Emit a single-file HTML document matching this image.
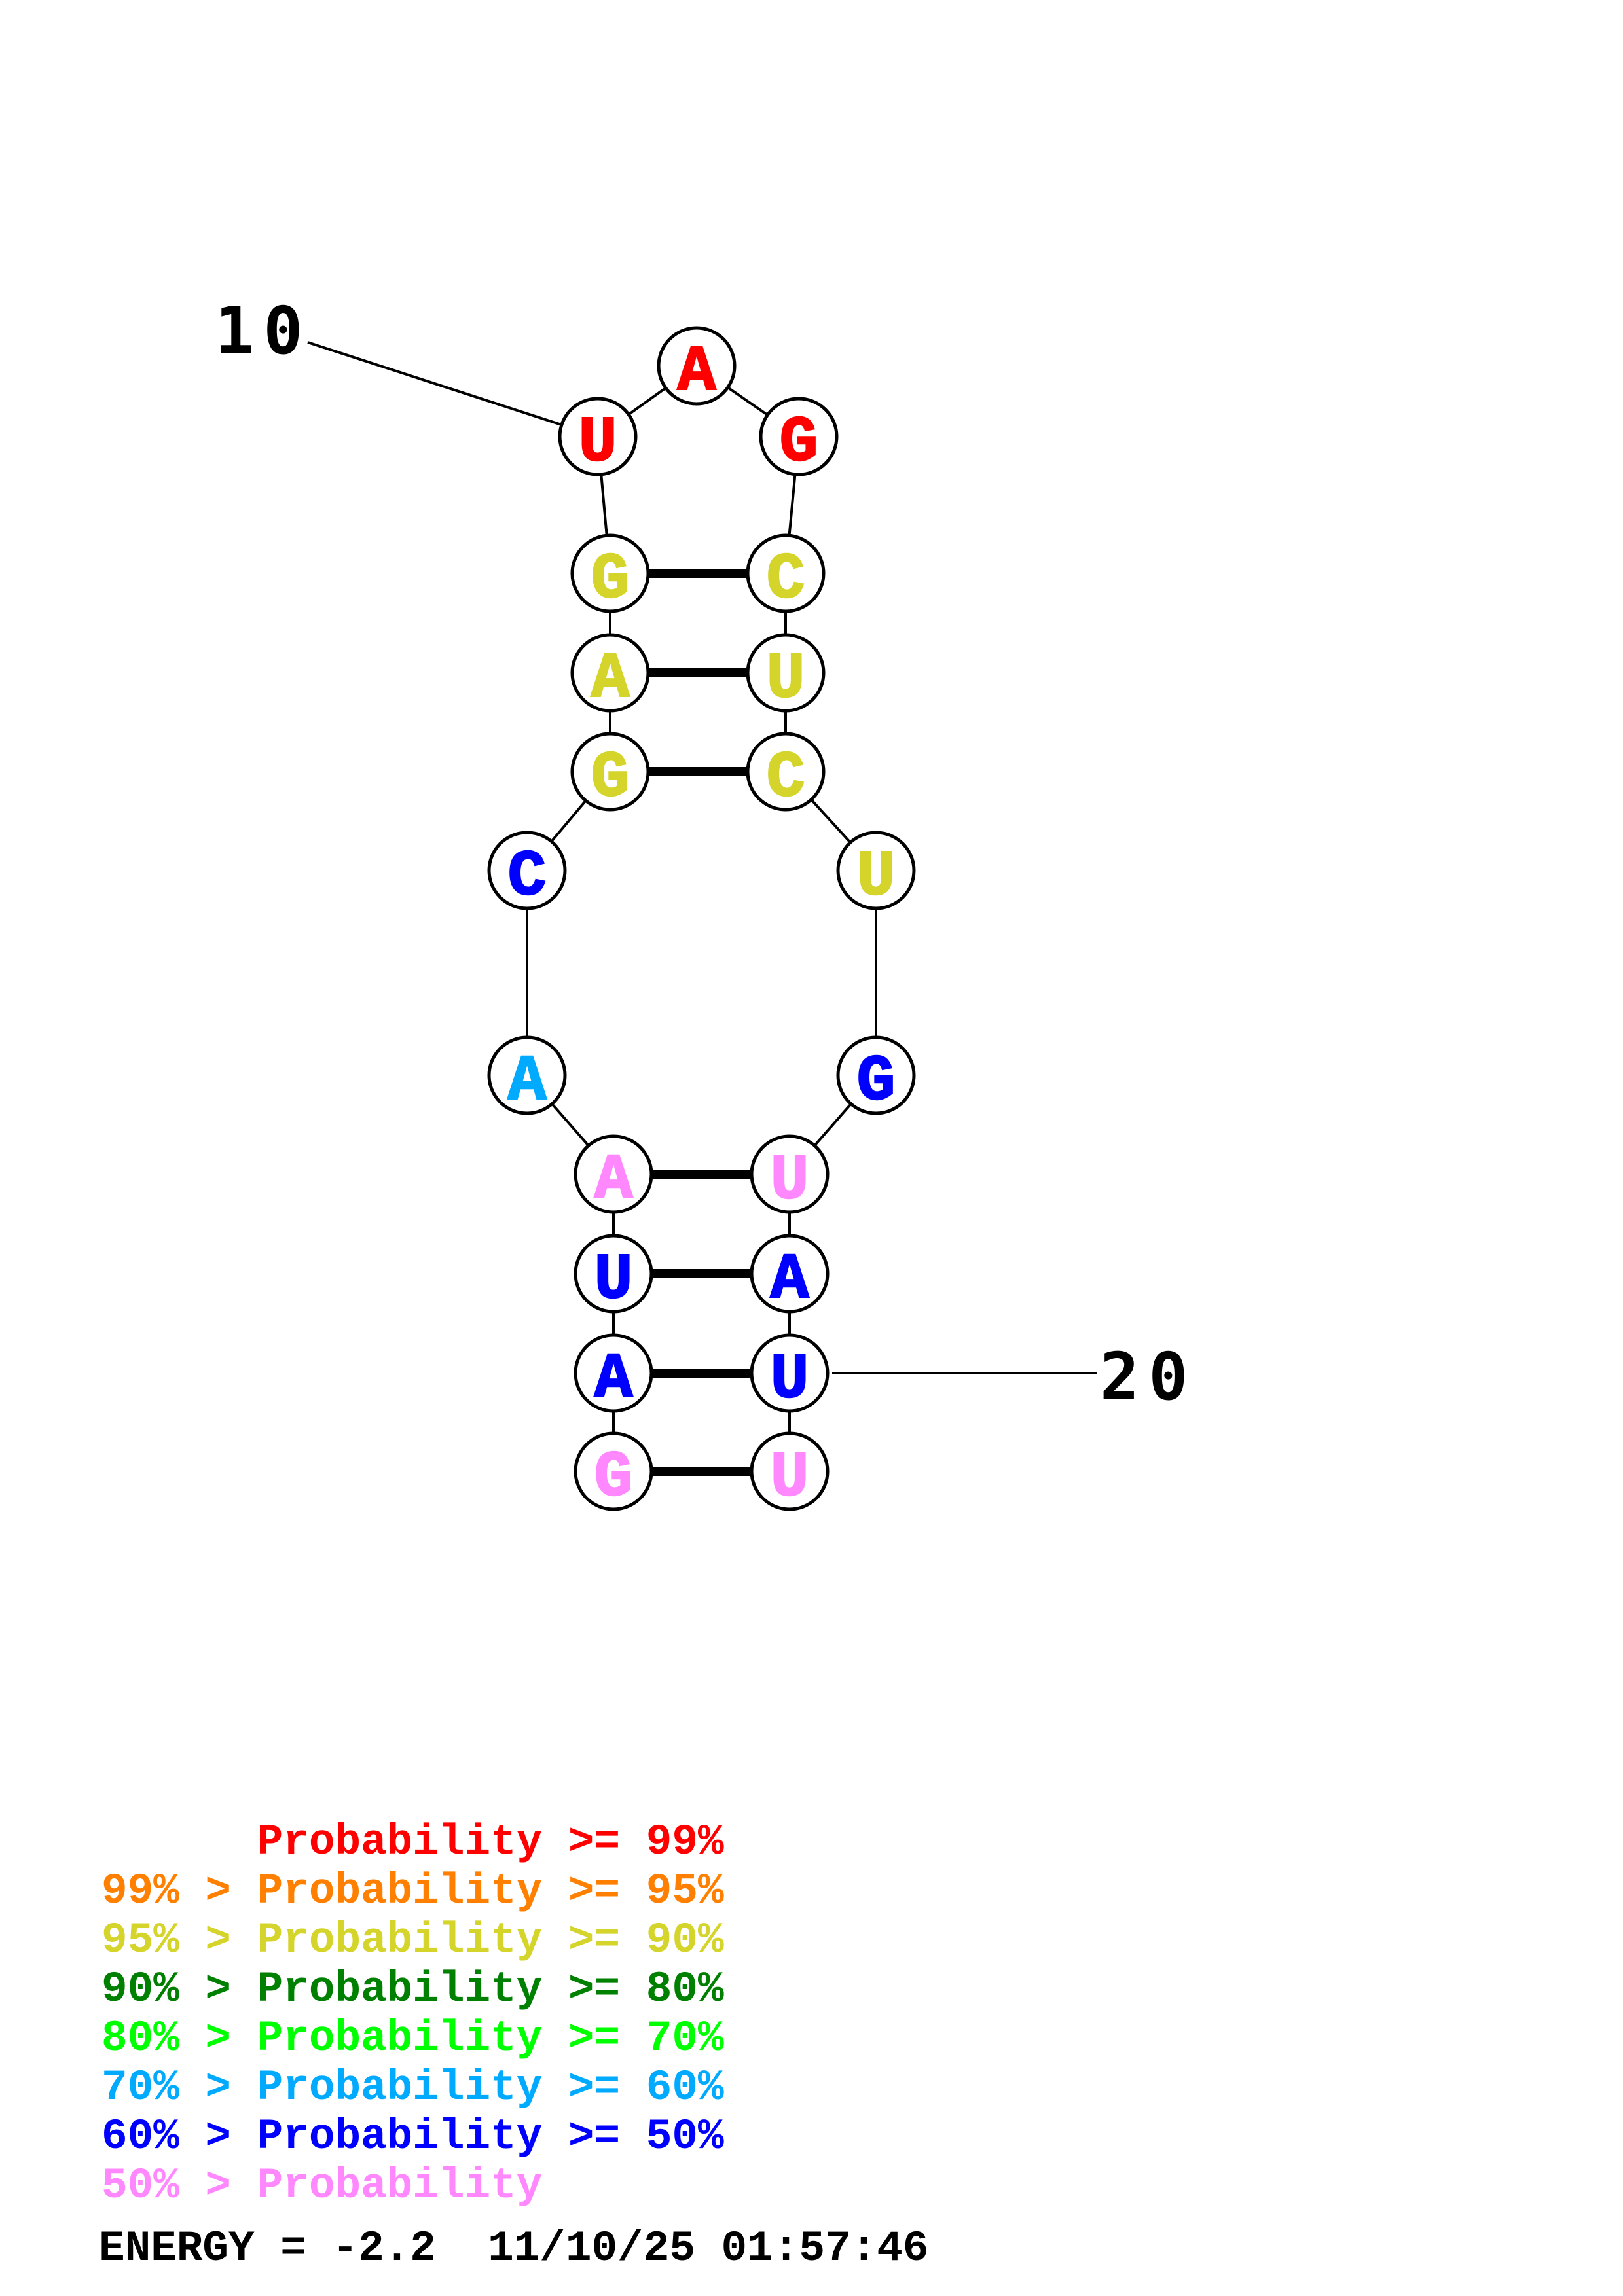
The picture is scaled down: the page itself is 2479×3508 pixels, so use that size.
<!DOCTYPE html>
<html><head><meta charset="utf-8"><style>
html,body{margin:0;padding:0;background:#fff;}
svg{display:block;}
.n{font-family:"Liberation Mono",monospace;font-weight:bold;font-size:98px;text-anchor:middle;stroke-width:2.5px;}
.lab{font-family:"DejaVu Sans Mono","Liberation Mono",monospace;font-weight:bold;font-size:100px;letter-spacing:14px;}
.lg{font-family:"Liberation Mono",monospace;font-weight:bold;font-size:66px;}
</style></head><body>
<svg width="2479" height="3508" viewBox="0 0 2479 3508" xmlns="http://www.w3.org/2000/svg">
<rect width="2479" height="3508" fill="#fff"/>
<g stroke="#000" stroke-width="4" fill="none">
<line x1="470" y1="523" x2="913" y2="667"/>
<line x1="1271" y1="2098" x2="1676" y2="2098"/>
<polyline points="913,667 1064,559 1220,667 1200,876 1200,1028 1200,1179 1338,1330 1338,1643 1206,1794 1206,1946 1206,2098 1206,2248"/>
<polyline points="913,667 932,876 932,1028 932,1179 805,1330 805,1643 937,1794 937,1946 937,2098 937,2248"/>
</g>
<g stroke="#000" stroke-width="14">
<line x1="932" y1="876" x2="1200" y2="876"/>
<line x1="932" y1="1028" x2="1200" y2="1028"/>
<line x1="932" y1="1179" x2="1200" y2="1179"/>
<line x1="937" y1="1794" x2="1206" y2="1794"/>
<line x1="937" y1="1946" x2="1206" y2="1946"/>
<line x1="937" y1="2098" x2="1206" y2="2098"/>
<line x1="937" y1="2248" x2="1206" y2="2248"/>
</g>
<g fill="#fff" stroke="#000" stroke-width="5">
<circle cx="913" cy="667" r="58"/><circle cx="1064" cy="559" r="58"/><circle cx="1220" cy="667" r="58"/>
<circle cx="932" cy="876" r="58"/><circle cx="1200" cy="876" r="58"/>
<circle cx="932" cy="1028" r="58"/><circle cx="1200" cy="1028" r="58"/>
<circle cx="932" cy="1179" r="58"/><circle cx="1200" cy="1179" r="58"/>
<circle cx="805" cy="1330" r="58"/><circle cx="1338" cy="1330" r="58"/>
<circle cx="805" cy="1643" r="58"/><circle cx="1338" cy="1643" r="58"/>
<circle cx="937" cy="1794" r="58"/><circle cx="1206" cy="1794" r="58"/>
<circle cx="937" cy="1946" r="58"/><circle cx="1206" cy="1946" r="58"/>
<circle cx="937" cy="2098" r="58"/><circle cx="1206" cy="2098" r="58"/>
<circle cx="937" cy="2248" r="58"/><circle cx="1206" cy="2248" r="58"/>
</g>
<g class="n">
<text x="913" y="703" fill="#ff0000" stroke="#ff0000">U</text>
<text x="1064" y="595" fill="#ff0000" stroke="#ff0000">A</text>
<text x="1220" y="703" fill="#ff0000" stroke="#ff0000">G</text>
<text x="932" y="912" fill="#d4d42b" stroke="#d4d42b">G</text><text x="1200" y="912" fill="#d4d42b" stroke="#d4d42b">C</text>
<text x="932" y="1064" fill="#d4d42b" stroke="#d4d42b">A</text><text x="1200" y="1064" fill="#d4d42b" stroke="#d4d42b">U</text>
<text x="932" y="1215" fill="#d4d42b" stroke="#d4d42b">G</text><text x="1200" y="1215" fill="#d4d42b" stroke="#d4d42b">C</text>
<text x="805" y="1366" fill="#0000ff" stroke="#0000ff">C</text><text x="1338" y="1366" fill="#d4d42b" stroke="#d4d42b">U</text>
<text x="805" y="1679" fill="#00aaff" stroke="#00aaff">A</text><text x="1338" y="1679" fill="#0000ff" stroke="#0000ff">G</text>
<text x="937" y="1830" fill="#ff88ff" stroke="#ff88ff">A</text><text x="1206" y="1830" fill="#ff88ff" stroke="#ff88ff">U</text>
<text x="937" y="1982" fill="#0000ff" stroke="#0000ff">U</text><text x="1206" y="1982" fill="#0000ff" stroke="#0000ff">A</text>
<text x="937" y="2134" fill="#0000ff" stroke="#0000ff">A</text><text x="1206" y="2134" fill="#0000ff" stroke="#0000ff">U</text>
<text x="937" y="2284" fill="#ff88ff" stroke="#ff88ff">G</text><text x="1206" y="2284" fill="#ff88ff" stroke="#ff88ff">U</text>
</g>
<text class="lab" x="328" y="540">10</text>
<text class="lab" x="1680" y="2138">20</text>
<g class="lg">
<text xml:space="preserve" x="155" y="2832" fill="#ff0000">      Probability &gt;= 99%</text>
<text xml:space="preserve" x="155" y="2907" fill="#ff8000">99% &gt; Probability &gt;= 95%</text>
<text xml:space="preserve" x="155" y="2982" fill="#d4d42b">95% &gt; Probability &gt;= 90%</text>
<text xml:space="preserve" x="155" y="3057" fill="#008000">90% &gt; Probability &gt;= 80%</text>
<text xml:space="preserve" x="155" y="3132" fill="#00ff00">80% &gt; Probability &gt;= 70%</text>
<text xml:space="preserve" x="155" y="3207" fill="#00aaff">70% &gt; Probability &gt;= 60%</text>
<text xml:space="preserve" x="155" y="3282" fill="#0000ff">60% &gt; Probability &gt;= 50%</text>
<text xml:space="preserve" x="155" y="3357" fill="#ff88ff">50% &gt; Probability</text>
<text xml:space="preserve" x="151" y="3453" fill="#000">ENERGY = -2.2  11/10/25 01:57:46</text>
</g>
</svg>
</body></html>
